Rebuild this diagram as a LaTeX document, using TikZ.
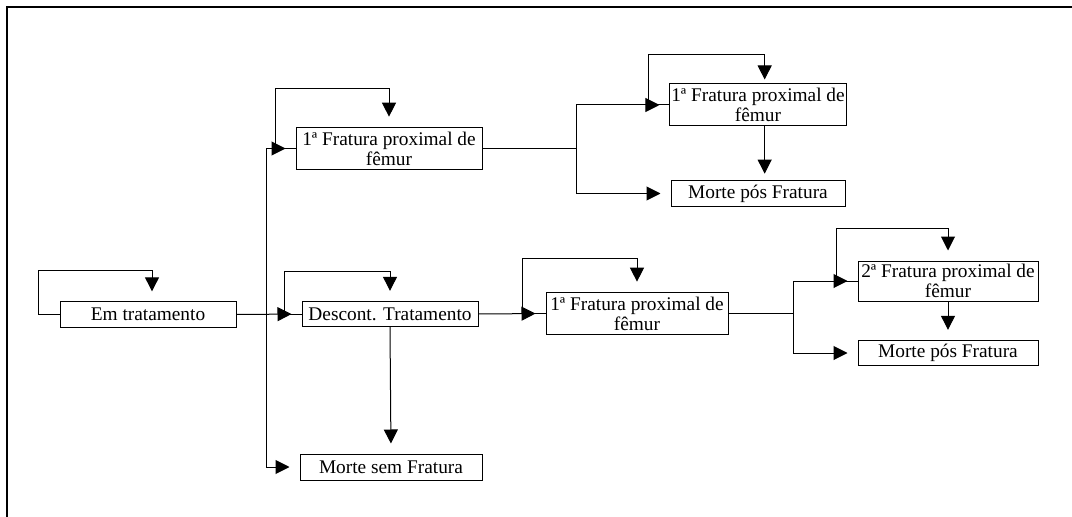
\documentclass[tikz,border=0pt]{standalone}
\usepackage{fontspec}
\setmainfont{Liberation Serif}
\usepackage{tikz}
\usetikzlibrary{arrows.meta}
\usetikzlibrary{calc}

\tikzset{
  caixa/.style={draw, line width=0.75pt, inner sep=1pt, align=center,
    font=\fontsize{14.5}{15}\selectfont},
  seta/.style={-{Triangle[length=10.5pt, width=10.5pt]}, line width=0.75pt, shorten >=7.5pt},
  linha/.style={line width=0.75pt},
}

\begin{document}
\begin{tikzpicture}[x=0.75pt, y=-0.75pt]

\useasboundingbox (0, 0) rectangle (1072, 517);
\draw[line width=1.2pt] (7, 517) -- (7, 7) -- (1072, 7);

\node[caixa, minimum width=132pt, minimum height=19pt] (emt) at (148, 314.5) {Em tratamento};
\node[caixa, minimum width=132pt, minimum height=19pt] (desc) at (390, 314) {Descont. Tratamento};
\node[caixa, minimum width=136.5pt, minimum height=19.5pt] (morteS) at (391, 467) {Morte sem Fratura};

\node[caixa, minimum width=139.5pt, minimum height=32pt] (frat1a) at (389, 148.5) {1ª Fratura proximal de\\fêmur};
\node[caixa, minimum width=136.5pt, minimum height=32pt] (frat1b) at (637, 313.5) {1ª Fratura proximal de\\fêmur};

\node[caixa, minimum width=130.5pt, minimum height=31.5pt] (frat2a) at (758, 105) {1ª Fratura proximal de\\fêmur};
\node[caixa, minimum width=130.5pt, minimum height=19pt] (morte2a) at (758, 193.5) {Morte pós Fratura};

\node[caixa, minimum width=135pt, minimum height=30pt] (frat2b) at (948, 281) {2ª Fratura proximal de\\fêmur};
\node[caixa, minimum width=135pt, minimum height=19pt] (morte2b) at (948, 353) {Morte pós Fratura};

\coordinate (bus) at (266, 314.5);
\coordinate (j1) at (576, 148.5);
\coordinate (j2) at (793, 313.5);

\draw[seta] (emt.west) -- ++(-21, 0) |- ++(0, -44) -| ([xshift=3]emt.north);
\draw[seta] (desc.west) -- ++(-17, 0) |- ++(0, -43) -| (desc.north);
\draw[seta] (frat1a.west) -- ++(-20, 0) |- ++(0, -60) -| (frat1a.north);
\draw[seta] (frat1b.west) -- ++(-23, 0) |- ++(0, -55) -| (frat1b.north);
\draw[seta, shorten >=3pt] (frat2a.west) -- ++(-21, 0) |- ++(0, -50) -| ([xshift=5]frat2a.north);
\draw[seta] (frat2b.west) -- ++(-21, 0) |- ++(0, -53) -| (frat2b.north);

\draw[seta] (emt.east) to (desc.west);
\draw[linha] (bus |- frat1a.west) to (bus |- morteS.west);
\draw[seta] (bus |- frat1a.west) to (frat1a.west);
\draw[seta] (bus |- morteS.west) to (morteS.west);

\draw[seta] (desc.south) to (morteS.north);
\draw[seta] (desc.east) to (frat1b.west);

\draw[linha] (frat1a.east) to (j1);
\draw[linha] (j1 |- frat2a.west) to (j1 |- morte2a.west);
\draw[seta] (j1 |- frat2a.west) to (frat2a.west);
\draw[seta] (j1 |- morte2a.west) to (morte2a.west);
\draw[seta, shorten >=5pt] ([xshift=5]frat2a.south) to ([xshift=5]frat2a.south |- morte2a.north);

\draw[linha] (frat1b.east) to (j2);
\draw[linha] (j2 |- frat2b.west) to (j2 |- morte2b.west);
\draw[seta] (j2 |- frat2b.west) to (frat2b.west);
\draw[seta] (j2 |- morte2b.west) to (morte2b.west);
\draw[seta] (frat2b.south) to (morte2b.north);

\end{tikzpicture}
\end{document}
